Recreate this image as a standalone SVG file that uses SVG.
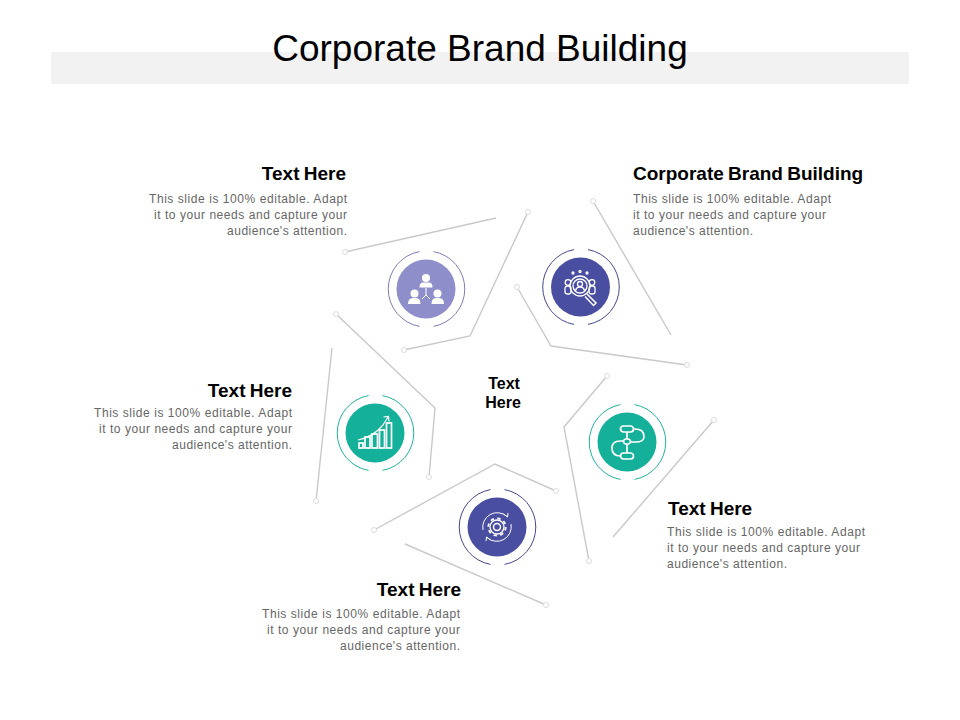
<svg xmlns="http://www.w3.org/2000/svg" width="960" height="720" viewBox="0 0 960 720">
<style>
text{font-family:"Liberation Sans",Arial,sans-serif}
.title{font-size:37px;fill:#000;text-anchor:middle}
.h{font-size:19px;font-weight:bold;fill:#000;word-spacing:-1px}
.b{font-size:12px;fill:#666}
.e{text-anchor:end}
.c{font-size:16px;font-weight:bold;fill:#000;text-anchor:middle}
.ln{fill:none;stroke:#c9c9c9;stroke-width:1.4}
.dot{fill:#fff;stroke:#dcdcdc;stroke-width:1}
.ring{fill:none;stroke-width:1}
.ic{fill:none;stroke:#fff;stroke-width:1.6}
.icf{fill:#fff}
</style>
<defs>
<path id="ring" d="M-7 -37.4A38 38 0 0 0 -7 37.4M7 -37.4A38 38 0 0 1 7 37.4"/>
</defs>
<rect x="51" y="52" width="858" height="32" fill="#f2f2f2"/>
<text class="title" x="480" y="61">Corporate Brand Building</text>
<g id="connectors">
<path class="ln" d="M345 252L496 218"/>
<path class="ln" d="M528 212L470 336L404 350"/>
<path class="ln" d="M593 201L671 335"/>
<path class="ln" d="M517 287L551 346L687 365"/>
<path class="ln" d="M607 376L564 427L589 561"/>
<path class="ln" d="M714 420L613 537"/>
<path class="ln" d="M556 491L495 464L374 530"/>
<path class="ln" d="M405 544L546 605"/>
<path class="ln" d="M336 314L435 408L429 477"/>
<path class="ln" d="M332 348L316 501"/>
<circle class="dot" cx="345" cy="252" r="2.5"/>
<circle class="dot" cx="528" cy="212" r="2.5"/>
<circle class="dot" cx="404" cy="350" r="2.5"/>
<circle class="dot" cx="593" cy="201" r="2.5"/>
<circle class="dot" cx="517" cy="287" r="2.5"/>
<circle class="dot" cx="687" cy="365" r="2.5"/>
<circle class="dot" cx="607" cy="376" r="2.5"/>
<circle class="dot" cx="589" cy="561" r="2.5"/>
<circle class="dot" cx="714" cy="420" r="2.5"/>
<circle class="dot" cx="556" cy="491" r="2.5"/>
<circle class="dot" cx="374" cy="530" r="2.5"/>
<circle class="dot" cx="546" cy="605" r="2.5"/>
<circle class="dot" cx="336" cy="314" r="2.5"/>
<circle class="dot" cx="429" cy="477" r="2.5"/>
<circle class="dot" cx="316" cy="501" r="2.5"/>
</g>
<g id="center"><text class="c" x="504" y="389">Text</text><text class="c" x="503" y="408">Here</text></g>
<g id="node-top-left">
<use href="#ring" class="ring" x="426.500" y="289" stroke="#7c7cb4"/>
<circle cx="426" cy="289" r="29.500" fill="#8e8ecb"/>
<g transform="translate(426 289)">
<circle class="icf" cx="0" cy="-11" r="4"/><path class="icf" d="M-6.500 -1.500Q-6.500 -6.500 -3 -6.500H3Q6.500 -6.500 6.500 -1.500Z"/>
<path d="M0 -1V6M0 6L-4 10M0 6L4 10" fill="none" stroke="#fff" stroke-width="1"/>
<circle class="icf" cx="-11.500" cy="4.500" r="4"/><path class="icf" d="M-18 15Q-18 9 -13 9H-10Q-5.500 9 -5.500 15Z"/>
<circle class="icf" cx="11.500" cy="4.500" r="4"/><path class="icf" d="M5.500 15Q5.500 9 10 9H13Q18 9 18 15Z"/>
</g>
<text class="h e" x="346" y="180">Text Here</text>
<text class="b e" x="347" y="202.500" textLength="198">This slide is 100% editable. Adapt</text>
<text class="b e" x="347" y="218.500" textLength="193">it to your needs and capture your</text>
<text class="b e" x="347" y="234.500" textLength="120">audience's attention.</text>
</g>
<g id="node-top-right">
<use href="#ring" class="ring" x="581" y="287" stroke="#44488f"/>
<circle cx="580.500" cy="287" r="29.500" fill="#4a4ea1"/>
<g transform="translate(580 287)" fill="none" stroke="#fff" stroke-width="1.300">
<circle cx="0" cy="-1" r="10"/><circle cx="0" cy="-1" r="7"/><circle cx="0" cy="-3" r="2.500"/>
<path d="M-4.500 4Q-4 0 0 0Q4 0 4.500 4"/>
<path d="M7 7L16 16L13.500 18.500L5 9.500" stroke-width="1.500"/>
<circle cx="-12" cy="-4.500" r="2.800"/><rect x="-15" y="-1" width="6" height="8" rx="2.500"/>
<circle cx="12" cy="-4.500" r="2.800"/><rect x="9" y="-1" width="6" height="8" rx="2.500"/>
<circle cx="0" cy="-15.500" r="1"/><circle cx="-7" cy="-14" r="1"/><circle cx="7" cy="-14" r="1"/>
</g>
<text class="h" x="633" y="180">Corporate Brand Building</text>
<text class="b" x="633" y="202.500" textLength="198">This slide is 100% editable. Adapt</text>
<text class="b" x="633" y="218.500" textLength="193">it to your needs and capture your</text>
<text class="b" x="633" y="234.500" textLength="120">audience's attention.</text>
</g>
<g id="node-left">
<use href="#ring" class="ring" x="375.500" y="433" stroke="#1fb39c"/>
<circle cx="375" cy="433" r="29.500" fill="#14b09a"/>
<g transform="translate(375 433)" fill="none" stroke="#fff" stroke-width="1.700">
<rect x="-16" y="10" width="4" height="5"/><rect x="-10" y="4" width="5" height="11"/><rect x="-3" y="1" width="5.500" height="14"/><rect x="4.500" y="-3" width="5" height="18"/><rect x="11.500" y="-10" width="5" height="25"/>
<path d="M-17 7Q-2 4 8 -8L13 -16M8.500 -16L13.500 -16.500L14 -11.500" stroke-width="1.200"/>
</g>
<text class="h e" x="292" y="397">Text Here</text>
<text class="b e" x="292" y="416.500" textLength="198">This slide is 100% editable. Adapt</text>
<text class="b e" x="292" y="432.500" textLength="193">it to your needs and capture your</text>
<text class="b e" x="292" y="449" textLength="120">audience's attention.</text>
</g>
<g id="node-right">
<use href="#ring" class="ring" x="627.500" y="442" stroke="#1fb39c"/>
<circle cx="627" cy="442" r="29.500" fill="#14b09a"/>
<g transform="translate(627 442)" fill="none" stroke="#fff" stroke-width="1.700">
<rect x="-6.500" y="-16" width="13" height="6" rx="3"/>
<rect x="-3.500" y="-3" width="7" height="5" rx="2.500"/>
<rect x="-6.500" y="11" width="13" height="6" rx="3"/>
<path d="M0 -10V-3M0 2V11"/>
<path d="M6.500 -13H8Q17 -13 17 -5.500Q17 0 9 0H3.500"/>
<path d="M-3.500 -1H-7Q-15 -1 -15 6Q-15 14 -6.500 14"/>
</g>
<text class="h" x="668" y="515">Text Here</text>
<text class="b" x="667" y="535.500" textLength="198">This slide is 100% editable. Adapt</text>
<text class="b" x="667" y="551.500" textLength="193">it to your needs and capture your</text>
<text class="b" x="667" y="567.500" textLength="120">audience's attention.</text>
</g>
<g id="node-bottom">
<use href="#ring" class="ring" x="497.500" y="527" stroke="#44488f"/>
<circle cx="497" cy="527" r="29.500" fill="#4a4ea1"/>
<g transform="translate(497 527)" fill="none" stroke="#fff">
<circle r="3.500" stroke-width="1.500"/>
<circle r="8.700" stroke-width="1.800" stroke-dasharray="3.400 3.430"/>
<circle r="7" stroke-width="1.300"/>
<path d="M-14 3A14.500 14.500 0 0 1 10 -10.500M6.500 -13L10.500 -10L11 -14M14 -3A14.500 14.500 0 0 1 -10 10.500M-6.500 13L-10.500 10L-11 14" stroke-width="1"/>
</g>
<text class="h e" x="461" y="596">Text Here</text>
<text class="b e" x="460" y="617.500" textLength="198">This slide is 100% editable. Adapt</text>
<text class="b e" x="460" y="633.500" textLength="193">it to your needs and capture your</text>
<text class="b e" x="460" y="649.500" textLength="120">audience's attention.</text>
</g>
</svg>
